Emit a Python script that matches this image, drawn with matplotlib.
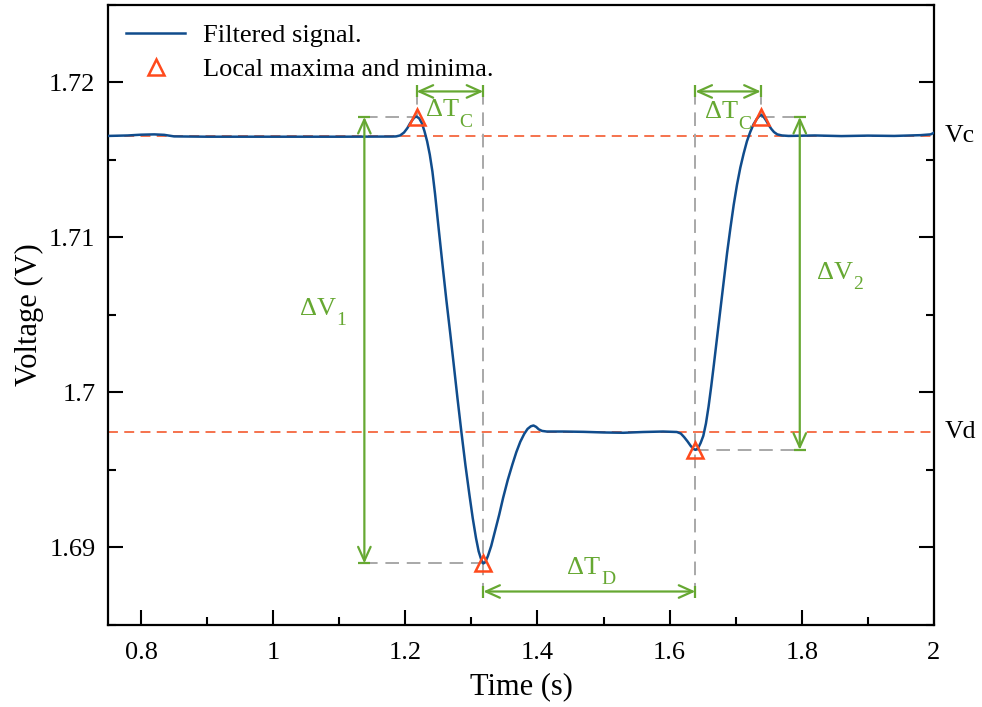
import numpy as np
import matplotlib
matplotlib.use('Agg')
import matplotlib.pyplot as plt
from matplotlib.ticker import MultipleLocator, FormatStrFormatter
import matplotlib.transforms as mtransforms

plt.rcParams['font.family'] = ['Liberation Serif', 'DejaVu Serif']

# filtered signal
t = [0.75, 0.78, 0.80, 0.82, 0.835, 0.85, 0.90, 1.00, 1.10, 1.18,
     1.186, 1.192, 1.198, 1.203, 1.207, 1.211, 1.214, 1.217, 1.221, 1.225,
     1.229, 1.233, 1.237, 1.241, 1.245, 1.250, 1.256, 1.262, 1.268, 1.273,
     1.279, 1.285, 1.291, 1.297, 1.302, 1.307, 1.311, 1.315, 1.318, 1.321,
     1.325, 1.330, 1.336, 1.342, 1.348, 1.355, 1.362, 1.368, 1.374, 1.380,
     1.385, 1.390, 1.394, 1.398, 1.402, 1.407, 1.414, 1.44, 1.47, 1.50,
     1.53, 1.56, 1.59, 1.611, 1.617, 1.622, 1.627, 1.632, 1.636, 1.639,
     1.643, 1.647, 1.651, 1.655, 1.659, 1.663, 1.667, 1.672, 1.677, 1.682,
     1.687, 1.692, 1.697, 1.702, 1.707, 1.712, 1.717, 1.722, 1.727, 1.732,
     1.736, 1.739, 1.742, 1.746, 1.750, 1.754, 1.758, 1.763, 1.770, 1.78,
     1.82, 1.86, 1.90, 1.94, 1.98, 1.995, 2.00]
v = [1.71655, 1.71658, 1.71663, 1.71665, 1.71662, 1.71652, 1.71650, 1.71650, 1.71650, 1.71651,
     1.71652, 1.71658, 1.71677, 1.71705, 1.71735, 1.71760, 1.71775, 1.71780, 1.71768, 1.71738,
     1.71685, 1.71620, 1.71535, 1.71425, 1.71280, 1.71075, 1.70835, 1.70600, 1.70380, 1.70190,
     1.69960, 1.69740, 1.69530, 1.69340, 1.69190, 1.69060, 1.68975, 1.68920, 1.68897, 1.68905,
     1.68945, 1.69010, 1.69110, 1.69210, 1.69320, 1.69435, 1.69535, 1.69615, 1.69682, 1.69733,
     1.69765, 1.69782, 1.69787, 1.69778, 1.69762, 1.69752, 1.69748, 1.69748, 1.69746, 1.69742,
     1.69740, 1.69745, 1.69748, 1.69745, 1.69735, 1.69712, 1.69685, 1.69655, 1.69636, 1.69630,
     1.69640, 1.69675, 1.69720, 1.69800, 1.69910, 1.70040, 1.70180, 1.70360, 1.70540, 1.70720,
     1.70900, 1.71060, 1.71210, 1.71340, 1.71450, 1.71540, 1.71620, 1.71680, 1.71730, 1.71765,
     1.71785, 1.71790, 1.71780, 1.71755, 1.71725, 1.71700, 1.71680, 1.71665, 1.71658, 1.71655,
     1.71658, 1.71654, 1.71657, 1.71655, 1.71660, 1.71665, 1.71675]

# local maxima and minima
peak_t = [1.217, 1.318, 1.639, 1.738]
peak_v = [1.71778, 1.68897, 1.69630, 1.71778]

Vc = 1.71652
Vd = 1.69742

blue = '#104C8C'
red = '#FF4A1C'
green = '#66A832'
gray = '#A8A8A8'

fig = plt.figure(figsize=(9.82, 7.07), dpi=100)
ax = fig.add_axes([0.110, 0.116, 0.841, 0.877])

ax.axhline(Vc, color='#F5673F', lw=1.3, ls=(0, (5.5, 3.5)), zorder=1)
ax.axhline(Vd, color='#F5673F', lw=1.3, ls=(0, (5.5, 3.5)), zorder=1)

# guide lines
dash = (0, (7, 4))
xa1, xa2 = 1.138, 1.797        # vertical arrow positions
ytop, ybot = 1.71942, 1.68716  # horizontal arrow heights
ax.plot([xa1, peak_t[0]], [peak_v[0], peak_v[0]], color=gray, lw=1.4, ls=dash, zorder=1)
ax.plot([xa1, peak_t[1]], [peak_v[1], peak_v[1]], color=gray, lw=1.4, ls=dash, zorder=1)
ax.plot([peak_t[3], xa2], [peak_v[3], peak_v[3]], color=gray, lw=1.4, ls=dash, zorder=1)
ax.plot([peak_t[2], xa2], [peak_v[2], peak_v[2]], color=gray, lw=1.4, ls=dash, zorder=1)
ax.plot([peak_t[1], peak_t[1]], [ytop, ybot], color=gray, lw=1.4, ls=dash, zorder=1)
ax.plot([peak_t[2], peak_t[2]], [ytop, ybot], color=gray, lw=1.4, ls=dash, zorder=1)
ax.plot([peak_t[0], peak_t[0]], [ytop, peak_v[0]], color=gray, lw=1.4, ls=dash, zorder=1)
ax.plot([peak_t[3], peak_t[3]], [ytop, peak_v[3]], color=gray, lw=1.4, ls=dash, zorder=1)

ax.plot(t, v, color=blue, lw=1.8, zorder=3, label='Filtered signal.')
ax.plot(peak_t, peak_v, ls='none', marker='^', ms=11, mfc='none', mec=red, mew=1.8,
        zorder=4, label='Local maxima and minima.')

# dimension arrows
aprops = dict(arrowstyle='<->,head_length=1.0,head_width=0.45', color=green, lw=1.6,
              shrinkA=0, shrinkB=0, mutation_scale=10)
arrows = [((peak_t[0], ytop), (peak_t[1], ytop), '|'),
          ((peak_t[2], ytop), (peak_t[3], ytop), '|'),
          ((peak_t[1], ybot), (peak_t[2], ybot), '|'),
          ((xa1, peak_v[0]), (xa1, peak_v[1]), '_'),
          ((xa2, peak_v[3]), (xa2, peak_v[2]), '_')]
for p0, p1, m in arrows:
    ax.annotate('', xy=p1, xytext=p0, arrowprops=aprops, zorder=5)
    ax.plot([p0[0], p1[0]], [p0[1], p1[1]], ls='none', marker=m, ms=9, mew=1.6,
            color=green, zorder=5)


def label_sub(x, y, main, sub):
    txt = ax.text(x, y, main, color=green, fontsize=19, va='baseline', zorder=6)
    ax.annotate(sub, xy=(1, 0), xycoords=txt, xytext=(0.5, -3.8),
                textcoords='offset points', color=green, fontsize=14,
                va='baseline', ha='left', zorder=6)


label_sub(1.231, 1.71781, '\u0394T', 'C')
label_sub(1.653, 1.71768, '\u0394T', 'C')
label_sub(1.445, 1.68832, '\u0394T', 'D')
label_sub(1.040, 1.70503, '\u0394V', '1')
label_sub(1.8227, 1.70735, '\u0394V', '2')

trans = mtransforms.blended_transform_factory(ax.transAxes, ax.transData)
ax.text(1.013, Vc, 'Vc', transform=trans, fontsize=18.5, va='center', ha='left')
ax.text(1.013, Vd, 'Vd', transform=trans, fontsize=18.5, va='center', ha='left')

ax.set_xlim(0.75, 2.0)
ax.set_ylim(1.685, 1.725)
ax.xaxis.set_major_locator(MultipleLocator(0.2))
ax.xaxis.set_minor_locator(MultipleLocator(0.1))
ax.yaxis.set_major_locator(MultipleLocator(0.01))
ax.yaxis.set_minor_locator(MultipleLocator(0.005))
ax.xaxis.set_major_formatter(FormatStrFormatter('%g'))
ax.yaxis.set_major_formatter(FormatStrFormatter('%g'))
ax.tick_params(which='both', direction='in', top=False, right=True, width=1.5,
               labelsize=19)
ax.tick_params(which='major', length=11)
ax.tick_params(which='minor', length=6)
ax.tick_params(axis='x', which='major', pad=12)
ax.tick_params(axis='y', which='major', pad=9)
for s in ax.spines.values():
    s.set_linewidth(1.6)

ax.set_xlabel('Time (s)', fontsize=22, labelpad=6)
ax.set_ylabel('Voltage (V)', fontsize=22, labelpad=4)

ax.legend(loc='upper left', frameon=False, fontsize=19, handlelength=2.2,
          handletextpad=0.7, labelspacing=0.4, borderaxespad=0.3,
          bbox_to_anchor=(0.0, 1.0))

fig.savefig('out.png', dpi=100)
